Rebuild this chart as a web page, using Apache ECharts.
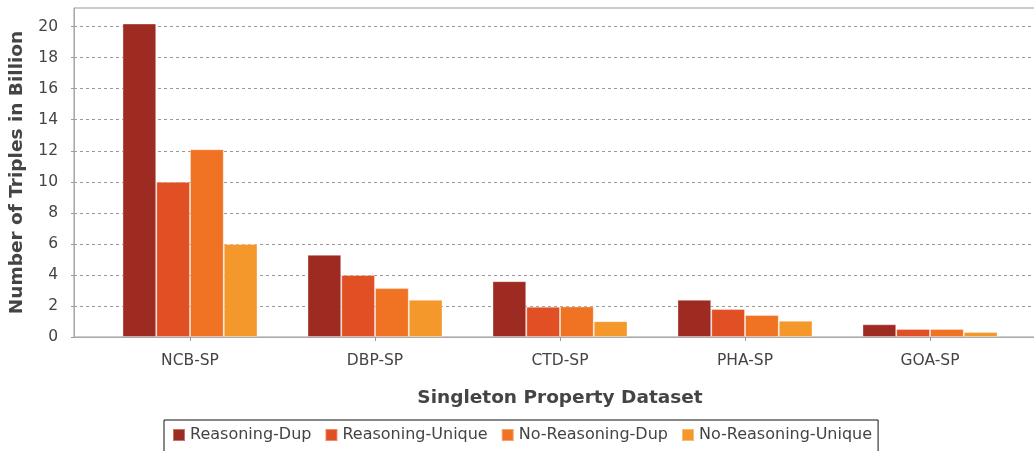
<!DOCTYPE html>
<html>
<head>
<meta charset="utf-8">
<script src="https://cdn.jsdelivr.net/npm/echarts@6/dist/echarts.min.js"></script>
<style>
  html, body { margin: 0; padding: 0; background: #fff; overflow: hidden; }
  /* wider than the window: the plot frame runs off the right edge */
  #chart { width: 1080px; height: 451px; }
</style>
</head>
<body>
<div id="chart"></div>
<script>
// datasets on the x axis
const datasets = ['NCB-SP', 'DBP-SP', 'CTD-SP', 'PHA-SP', 'GOA-SP'];
const seriesNames = ['Reasoning-Dup', 'Reasoning-Unique', 'No-Reasoning-Dup', 'No-Reasoning-Unique'];
const colors = ['#9E2B21', '#E14F24', '#EF7322', '#F5982B'];

// triples in billion
const reasoningDup = [20.2, 5.3, 3.6, 2.4, 0.82];
const reasoningUnique = [10.0, 4.0, 1.95, 1.8, 0.52];
const noReasoningDup = [12.1, 3.15, 1.97, 1.42, 0.52];
const noReasoningUnique = [6.0, 2.4, 1.02, 1.05, 0.33];

const values = [reasoningDup, reasoningUnique, noReasoningDup, noReasoningUnique];

const font = 'DejaVu Sans';
const myChart = echarts.init(document.getElementById('chart'));

const option = {
    animation: false,
    textStyle: { fontFamily: font },
    legend: {
        data: seriesNames,
        top: 420,
        left: 164,
        borderColor: '#111',
        borderWidth: 1,
        padding: [7, 6, 10, 8],
        itemWidth: 12,
        itemHeight: 12,
        itemGap: 13,
        icon: 'rect',
        textStyle: { color: '#444', fontSize: 16, fontFamily: font }
    },
    grid: [
        // plot box with grid lines
        { left: 74, top: 8, right: 0, bottom: 114, show: true, borderColor: '#999', borderWidth: 1 },
        // bars
        { left: 97.5, top: 8, right: 57.5, bottom: 114 }
    ],
    xAxis: [
        {
            gridIndex: 0, type: 'value', min: 0, max: 1, offset: 5,
            axisLine: { show: true, lineStyle: { color: '#aaa' } },
            axisTick: { show: false }, axisLabel: { show: false }, splitLine: { show: false }
        },
        {
            gridIndex: 1, type: 'category', data: datasets, offset: 5,
            axisLine: { show: false },
            axisTick: { show: true, alignWithLabel: true, length: 4, lineStyle: { color: '#999' } },
            axisLabel: { color: '#444', fontSize: 15.5, margin: 11 },
            name: 'Singleton Property Dataset',
            nameLocation: 'middle',
            nameGap: 47,
            nameTextStyle: { color: '#444', fontSize: 18.5, fontWeight: 'bold' }
        }
    ],
    yAxis: [
        {
            gridIndex: 0, type: 'value', min: 0, max: 21.2, interval: 2, offset: 6,
            axisLine: { show: true, lineStyle: { color: '#aaa' } },
            axisTick: { show: true, length: 3, lineStyle: { color: '#999' } },
            axisLabel: { color: '#444', fontSize: 15.5, margin: 10, showMaxLabel: false },
            splitLine: {
                show: true, showMinLine: false, showMaxLine: false,
                lineStyle: { color: '#999', type: [3, 3], width: 1 }
            },
            name: 'Number of Triples in Billion',
            nameLocation: 'middle',
            nameGap: 41,
            nameTextStyle: { color: '#444', fontSize: 18.5, fontWeight: 'bold' }
        },
        {
            gridIndex: 1, type: 'value', min: 0, max: 21.2, show: false,
            splitLine: { show: false }
        }
    ],
    series: seriesNames.map((name, i) => ({
        name: name,
        type: 'bar',
        xAxisIndex: 1,
        yAxisIndex: 1,
        data: values[i],
        barGap: '0%',
        barCategoryGap: '27%',
        itemStyle: { color: colors[i], borderColor: 'rgba(255,255,255,0.35)', borderWidth: 1 }
    }))
};

myChart.setOption(option);
</script>
</body>
</html>
